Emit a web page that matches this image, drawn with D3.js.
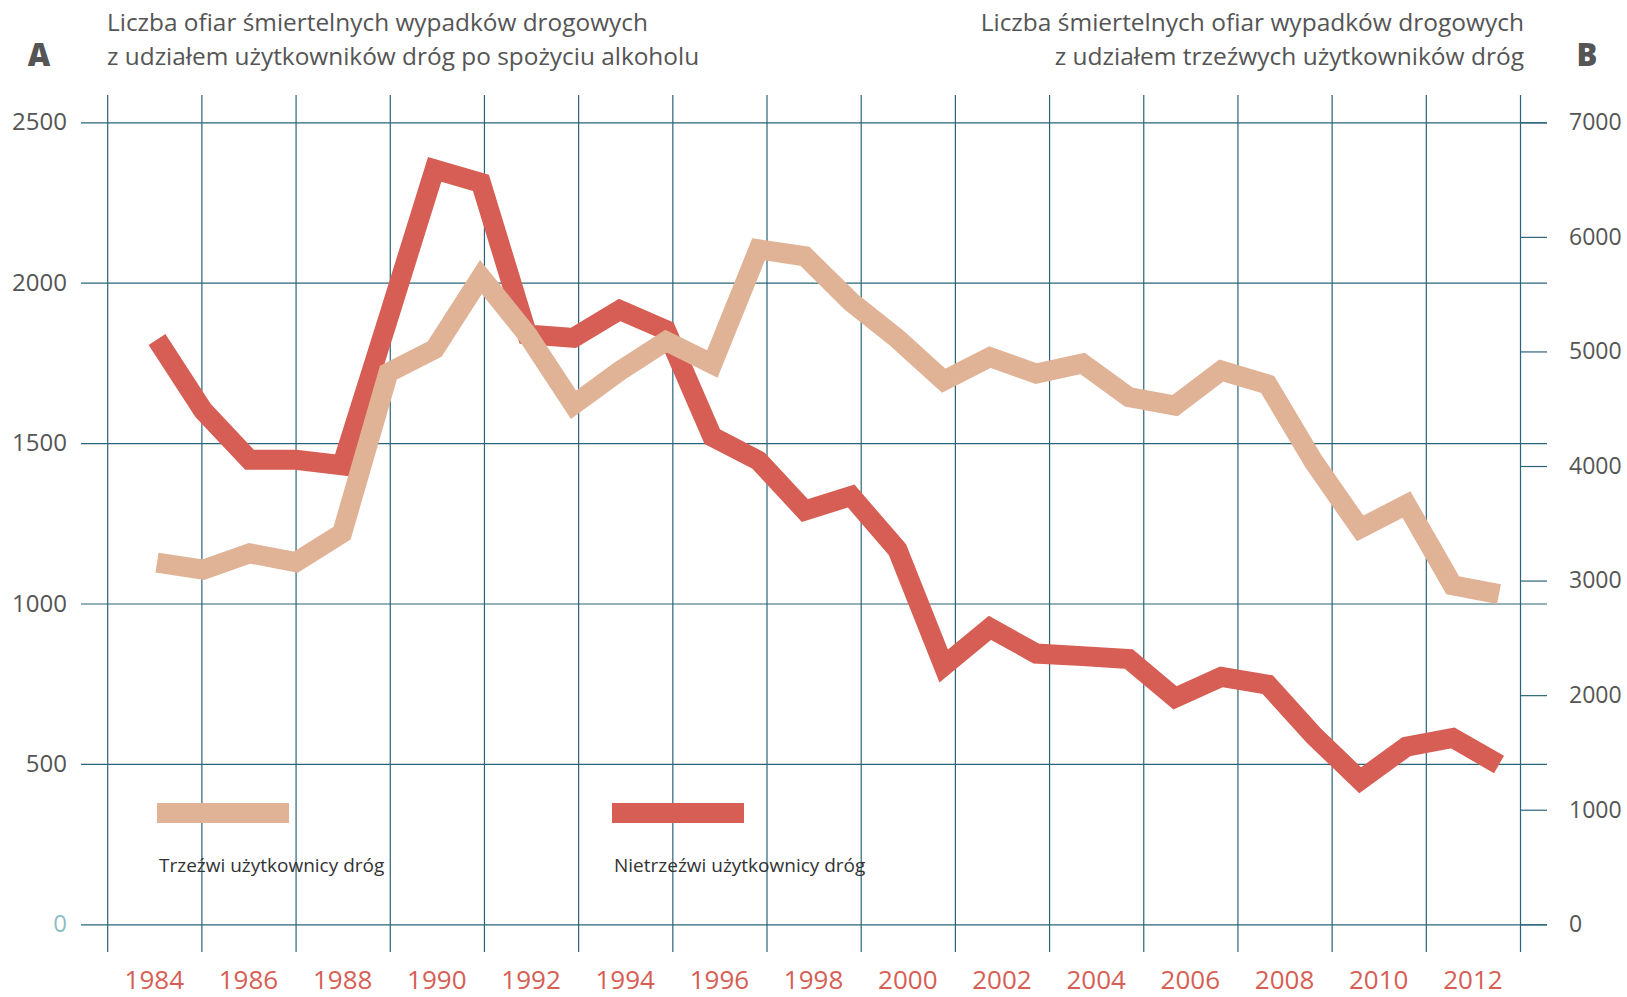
<!DOCTYPE html>
<html lang="pl">
<head>
<meta charset="utf-8">
<title>Ofiary wypadków drogowych</title>
<script src="https://cdn.jsdelivr.net/npm/d3@7"></script>
<style>
    html, body { margin: 0; padding: 0; background: #fff; }
    #chart { width: 1627px; height: 997px; }
    text { font-family: "Open Sans", "Noto Sans", sans-serif; }
</style>
</head>
<body>
<div id="chart"></div>
<script>
// Data
const years = [1984, 1985, 1986, 1987, 1988, 1989, 1990, 1991, 1992, 1993,
               1994, 1995, 1996, 1997, 1998, 1999, 2000, 2001, 2002, 2003,
               2004, 2005, 2006, 2007, 2008, 2009, 2010, 2011, 2012, 2013];

// Nietrzeźwi użytkownicy dróg (left axis, A)
const drunkVictims = [1823, 1601, 1448, 1448, 1431, 1890, 2353, 2311, 1839, 1828,
                      1915, 1852, 1520, 1445, 1290, 1335, 1168, 805, 924, 844,
                      836, 827, 706, 771, 747, 588, 449, 554, 581, 498];

// Trzeźwi użytkownicy dróg (right axis, B)
const soberVictims = [3157, 3095, 3238, 3161, 3414, 4815, 5020, 5650, 5149, 4535,
                      4830, 5090, 4891, 5891, 5831, 5432, 5111, 4745, 4950, 4807,
                      4895, 4601, 4528, 4833, 4712, 4035, 3455, 3664, 2959, 2882];

const gridYears = [1983, 1985, 1987, 1989, 1991, 1993, 1995, 1997,
                   1999, 2001, 2003, 2005, 2007, 2009, 2011, 2013];
const yearLabels = [1984, 1986, 1988, 1990, 1992, 1994, 1996, 1998,
                    2000, 2002, 2004, 2006, 2008, 2010, 2012];
const leftTicks = [0, 500, 1000, 1500, 2000, 2500];
const rightTicks = [0, 1000, 2000, 3000, 4000, 5000, 6000, 7000];

const titleLeft = ['Liczba ofiar śmiertelnych wypadków drogowych',
                   'z udziałem użytkowników dróg po spożyciu alkoholu'];
const titleRight = ['Liczba śmiertelnych ofiar wypadków drogowych',
                    'z udziałem trzeźwych użytkowników dróg'];
const legendLabels = ['Trzeźwi użytkownicy dróg', 'Nietrzeźwi użytkownicy dróg'];

document.addEventListener('DOMContentLoaded', function () {
    renderChart();
});

function renderChart() {
    const width = 1627;
    const height = 997;

    const RED = '#d65e54';
    const SALMON = '#e0b296';
    const GRID = '#2a6479';
    const LABEL = '#555';

    const svg = d3.select('#chart')
        .append('svg')
        .attr('width', width)
        .attr('height', height);

    // Scales
    const gridX = d3.scaleLinear().domain([1983, 2013]).range([107.2, 1520]);
    const dataX = d3.scaleLinear().domain([1984, 2013]).range([157, 1499]);
    const yLeft = d3.scaleLinear().domain([0, 2500]).range([924.3, 122.3]);
    const yRight = d3.scaleLinear().domain([0, 7000]).range([924.3, 122.3]);

    const gridLeft = 81;
    const gridRight = 1547;
    const gridTop = 95;
    const gridBottom = 952;

    // Vertical grid lines
    const xGrid = svg.append('g')
        .attr('transform', `translate(0,${gridBottom})`)
        .call(d3.axisBottom(gridX)
            .tickValues(gridYears)
            .tickSize(-(gridBottom - gridTop))
            .tickFormat(''));
    xGrid.select('.domain').remove();
    xGrid.selectAll('.tick line').attr('stroke', GRID).attr('stroke-width', 1.2);

    // Left axis + horizontal grid lines
    const leftAxis = svg.append('g')
        .attr('transform', `translate(${gridLeft},0)`)
        .call(d3.axisLeft(yLeft)
            .tickValues(leftTicks)
            .tickSize(-(gridRight - gridLeft))
            .tickPadding(14)
            .tickFormat(d3.format('d')));
    leftAxis.select('.domain').remove();
    leftAxis.selectAll('.tick line').attr('stroke', GRID).attr('stroke-width', 1.2);
    leftAxis.selectAll('.tick text')
        .attr('font-size', '24px')
        .attr('font-family', '"Open Sans", sans-serif')
        .attr('fill', d => d === 0 ? '#8dbdc5' : LABEL);

    // Right axis (short ticks)
    const rightAxis = svg.append('g')
        .attr('transform', `translate(${gridX(2013)},0)`)
        .call(d3.axisRight(yRight)
            .tickValues(rightTicks)
            .tickSize(gridRight - gridX(2013))
            .tickPadding(22)
            .tickFormat(d3.format('d')));
    rightAxis.select('.domain').remove();
    rightAxis.selectAll('.tick line').attr('stroke', GRID).attr('stroke-width', 1.2);
    rightAxis.selectAll('.tick text')
        .attr('font-size', '23px')
        .attr('font-family', '"Open Sans", sans-serif')
        .attr('fill', LABEL);

    // Year labels, centred in the grid bands
    svg.append('g')
        .selectAll('text')
        .data(yearLabels)
        .enter().append('text')
        .attr('x', d => gridX(d))
        .attr('y', 989)
        .attr('text-anchor', 'middle')
        .attr('font-size', '26px')
        .attr('fill', RED)
        .text(d => d);

    // Lines
    const drunkLine = d3.line()
        .x((d, i) => dataX(years[i]))
        .y(d => yLeft(d));
    const soberLine = d3.line()
        .x((d, i) => dataX(years[i]))
        .y(d => yRight(d));

    svg.append('path')
        .datum(drunkVictims)
        .attr('d', drunkLine)
        .attr('fill', 'none')
        .attr('stroke', RED)
        .attr('stroke-width', 20)
        .attr('stroke-linejoin', 'miter')
        .attr('stroke-linecap', 'butt');

    svg.append('path')
        .datum(soberVictims)
        .attr('d', soberLine)
        .attr('fill', 'none')
        .attr('stroke', SALMON)
        .attr('stroke-width', 20)
        .attr('stroke-linejoin', 'miter')
        .attr('stroke-linecap', 'butt');

    // Titles
    const tl = svg.append('text')
        .attr('font-size', '24.4px')
        .attr('fill', LABEL);
    tl.selectAll('tspan')
        .data(titleLeft)
        .enter().append('tspan')
        .attr('x', 107)
        .attr('y', (d, i) => 31 + i * 34)
        .text(d => d);

    const tr = svg.append('text')
        .attr('text-anchor', 'end')
        .attr('font-size', '24.5px')
        .attr('fill', LABEL);
    tr.selectAll('tspan')
        .data(titleRight)
        .enter().append('tspan')
        .attr('x', 1524)
        .attr('y', (d, i) => 31 + i * 34)
        .text(d => d);

    svg.append('text')
        .attr('x', 39)
        .attr('y', 66)
        .attr('text-anchor', 'middle')
        .attr('font-size', '31px')
        .attr('font-weight', '800')
        .attr('fill', LABEL)
        .text('A');

    svg.append('text')
        .attr('x', 1587)
        .attr('y', 66)
        .attr('text-anchor', 'middle')
        .attr('font-size', '31px')
        .attr('font-weight', '800')
        .attr('fill', LABEL)
        .text('B');

    // Legend
    const legend = svg.append('g');
    const legendItems = [
        { label: legendLabels[0], color: SALMON, x: 157 },
        { label: legendLabels[1], color: RED, x: 612 }
    ];
    legend.selectAll('rect')
        .data(legendItems)
        .enter().append('rect')
        .attr('x', d => d.x)
        .attr('y', 803)
        .attr('width', 132)
        .attr('height', 20)
        .attr('fill', d => d.color);
    legend.selectAll('text')
        .data(legendItems)
        .enter().append('text')
        .attr('x', d => d.x + 2)
        .attr('y', 872)
        .attr('font-size', '19px')
        .attr('fill', '#333')
        .text(d => d.label);
}
</script>
</body>
</html>
